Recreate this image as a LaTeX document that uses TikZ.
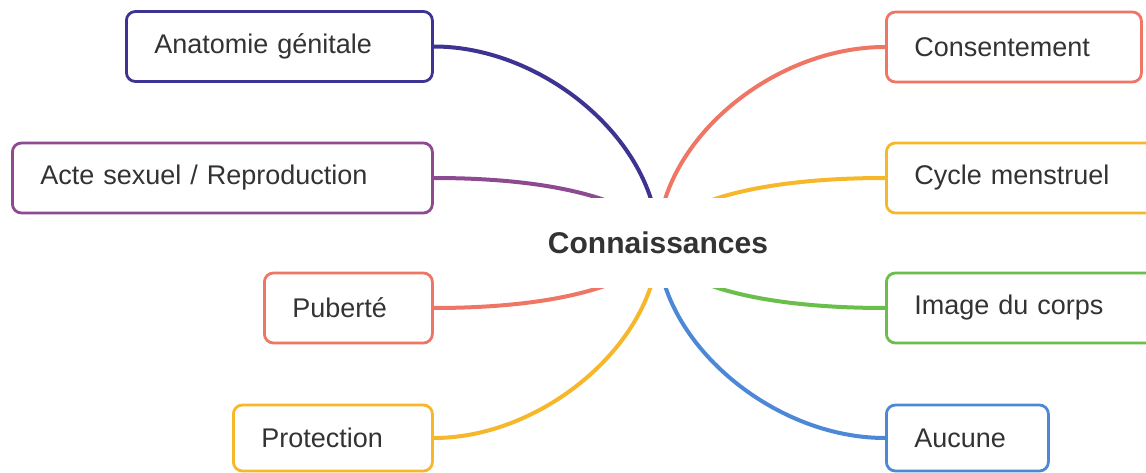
\documentclass[tikz,border=0pt]{standalone}
\usepackage{fontspec}
\setmainfont{Liberation Sans}
\usetikzlibrary{backgrounds}
\definecolor{txt}{HTML}{333333}
\definecolor{cIndigo}{HTML}{3D3392}
\definecolor{cPurple}{HTML}{8E4A90}
\definecolor{cSalmon}{HTML}{EF7565}
\definecolor{cAmber}{HTML}{F6B72A}
\definecolor{cGreen}{HTML}{6ABF4B}
\definecolor{cBlue}{HTML}{4D88D6}
\tikzset{
  leaf/.style={draw=#1, line width=2.8pt, rounded corners=9pt, fill=white,
    minimum height=70pt, inner xsep=28pt, inner ysep=0pt, align=left,
    text=txt, font=\fontsize{27}{32}\selectfont},
  conn/.style={draw=#1, line width=4pt},
  hub/.style={fill=white, minimum width=236pt, minimum height=89pt, inner sep=0pt,
    text=txt, font=\fontsize{30}{36}\selectfont\bfseries}
}
\begin{document}
\begin{tikzpicture}[x=1pt,y=-1pt]
\useasboundingbox (0,0) rectangle (1146,473);
\clip (0,0) rectangle (1146,473);
% hub
\node[hub] (c) at (658,243) {Connaissances};
% left leaves
\node[leaf=cIndigo, text width=250pt, anchor=west] (anat) at (125,46.5) {Anatomie génitale};
\node[leaf=cPurple, text width=364pt, anchor=west] (acte) at (11,178) {Acte sexuel / Reproduction};
\node[leaf=cSalmon, text width=112pt, anchor=west] (pub) at (263,308) {Puberté};
\node[leaf=cAmber, text width=143pt, anchor=west, minimum height=66pt] (prot) at (232,438) {Protection};
% right leaves
\node[leaf=cSalmon, text width=199pt, anchor=west] (cons) at (885,47) {Consentement};
\node[leaf=cAmber, text width=234pt, anchor=west] (cyc) at (885,178) {Cycle menstruel};
\node[leaf=cGreen, text width=234pt, anchor=west] (img) at (885,308) {Image du corps};
\node[leaf=cBlue, text width=106pt, anchor=west, minimum height=66pt] (auc) at (885,438) {Aucune};
% connectors
\begin{scope}[on background layer]
\draw[conn=cIndigo] (c.center) .. controls (658,143) and (545,46.5) .. (anat.east);
\draw[conn=cPurple] (c.center) .. controls (658,215) and (590,178) .. (acte.east);
\draw[conn=cSalmon] (c.center) .. controls (658,271) and (590,308) .. (pub.east);
\draw[conn=cAmber] (c.center) .. controls (658,340) and (545,438) .. (prot.east);
\draw[conn=cSalmon] (c.center) .. controls (658,143) and (771,47) .. (cons.west);
\draw[conn=cAmber] (c.center) .. controls (658,215) and (726,178) .. (cyc.west);
\draw[conn=cGreen] (c.center) .. controls (658,271) and (726,308) .. (img.west);
\draw[conn=cBlue] (c.center) .. controls (658,340) and (771,438) .. (auc.west);
\end{scope}
\end{tikzpicture}
\end{document}
